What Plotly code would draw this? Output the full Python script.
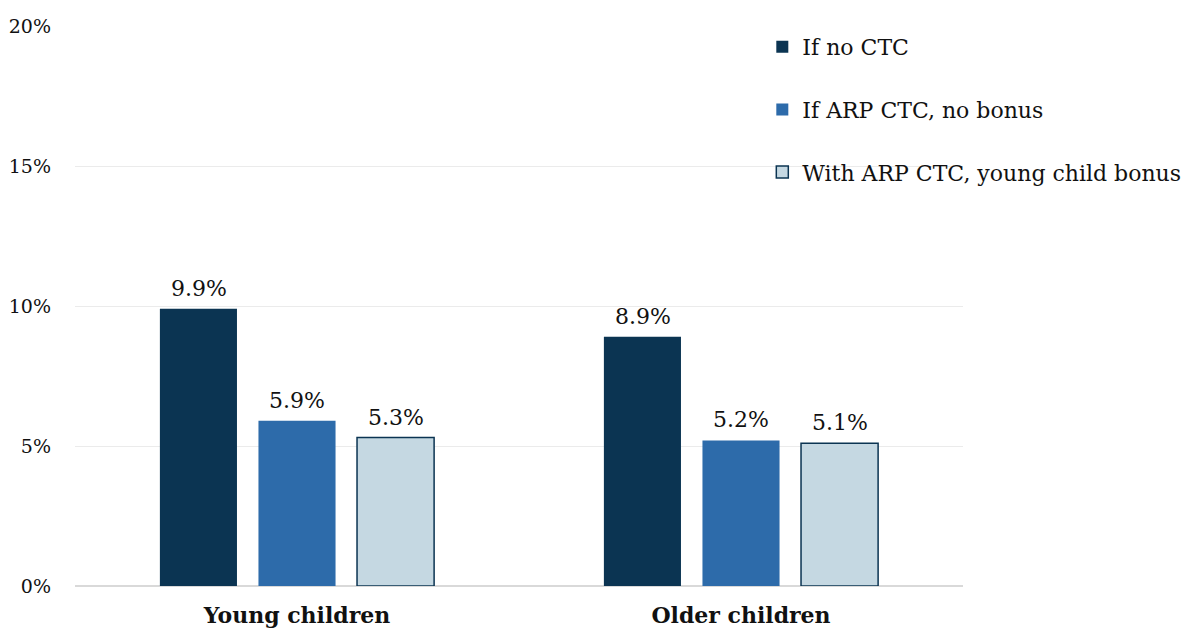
import plotly.graph_objects as go

categories = ["Young children", "Older children"]
series_names = ["If no CTC", "If ARP CTC, no bonus", "With ARP CTC, young child bonus"]
no_ctc = [9.9, 8.9]
arp_no_bonus = [5.9, 5.2]
arp_bonus = [5.3, 5.1]
values = [no_ctc, arp_no_bonus, arp_bonus]
y_ticks = [0, 5, 10, 15, 20]

fills = ["#0B3452", "#2D6BAA", "#C5D8E2"]
lines = ["#0B3452", "#2D6BAA", "#0B3452"]
line_w = [0, 0, 1.5]

FONT = "DejaVu Serif"

fig = go.Figure()
for i, (name, vals) in enumerate(zip(series_names, values)):
    fig.add_trace(go.Bar(
        x=categories, y=vals, name=name,
        marker=dict(color=fills[i], line=dict(color=lines[i], width=line_w[i])),
        legendgroup=f"g{i}",
    ))

# value labels above bars
slot_px = 98.5
for i, vals in enumerate(values):
    for c, v in zip(categories, vals):
        fig.add_annotation(
            x=c, y=v, xref="x", yref="y", text=f"{v:.1f}%",
            showarrow=False, yanchor="bottom", xshift=(i - 1) * slot_px, yshift=6,
            font=dict(family=FONT, size=22, color="#111111"),
        )

fig.update_layout(
    width=1191, height=633,
    margin=dict(l=67, r=236, t=18, b=55, autoexpand=False),
    paper_bgcolor="white", plot_bgcolor="white",
    barmode="group", bargap=0.334, bargroupgap=0.218,
    font=dict(family=FONT, color="#111111"),
    showlegend=True,
    legend=dict(
        x=0.774, y=1.0, xanchor="left", yanchor="top",
        font=dict(family=FONT, size=22, color="#111111"),
        tracegroupgap=31, bgcolor="rgba(0,0,0,0)",
    ),
)
fig.update_yaxes(
    range=[0, 20], tickvals=y_ticks, ticktext=[f"{t}%" for t in y_ticks],
    showgrid=True, gridcolor="#EBEBEB", gridwidth=1.2,
    zeroline=True, zerolinecolor="#D9D9D9", zerolinewidth=1.5,
    tickfont=dict(family=FONT, size=19, color="#111111"),
    ticklabelstandoff=23, showline=False, automargin=False,
)
fig.update_xaxes(
    tickfont=dict(family=FONT, size=22, color="#111111", weight="bold"),
    showline=False, ticks="", ticklabelstandoff=14, automargin=False,
)

fig.write_html("out.html")
